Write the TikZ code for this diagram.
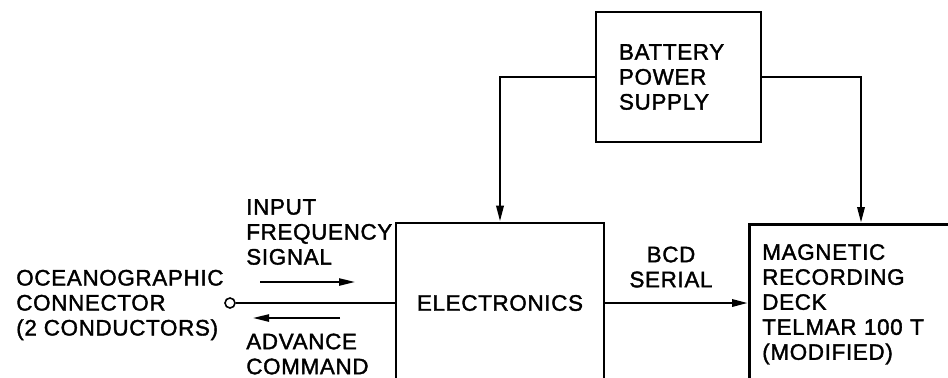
\documentclass[tikz,border=0pt]{standalone}
\usepackage{fontspec}
\setmainfont{Liberation Sans}[LetterSpace=3, FakeBold=1.6]
\usetikzlibrary{arrows.meta}

\begin{document}
\begin{tikzpicture}[x=0.5pt, y=-0.5pt, line width=1.3pt,
    every node/.style={font=\fontsize{11.2}{12.5}\selectfont},
    blk/.style={draw, line width=1.3pt},
    lbl/.style={align=left, inner sep=0pt},
    sig/.style={-{Triangle[length=8pt,width=3.6pt]}}]
  \useasboundingbox (0,0) rectangle (948,377);
  \clip (0,0) rectangle (948,377);

  % 电源
  \node[blk, minimum width=82.5pt, minimum height=65pt, text width=59.5pt,
        inner xsep=11.5pt, align=left] (batt) at (678.5,77) {BATTERY\\POWER\\SUPPLY};

  % 电子部分（下边在图外）
  \node[blk, minimum width=104pt, minimum height=80pt] (elec) at (500,303) {ELECTRONICS};

  % 磁带记录仪（右边、下边在图外）
  \node[blk, anchor=north west, minimum height=80pt, text width=200pt,
        inner xsep=6.5pt, align=left] (deck) at (748,223)
        {MAGNETIC\\RECORDING\\DECK\\TELMAR 100 T\\(MODIFIED)};

  % 海洋连接器
  \node[circle, draw, line width=0.8pt, inner sep=0pt, minimum size=5pt] (conn) at (230,303) {};
  \node[lbl, anchor=west] (connlbl) at (15,305) {OCEANOGRAPHIC\\CONNECTOR\\(2 CONDUCTORS)};

  % 连线
  \draw (conn.east) -- (elec.west);
  \draw[sig] (elec.east) -- (elec.east -| deck.west);
  \draw[sig] (batt.west) -| (elec.north);
  \draw[sig] (batt.east) -| ([xshift=56.5pt]deck.north west);

  % 信号方向
  \node[lbl, anchor=west] (inlbl) at (245,232) {INPUT\\FREQUENCY\\SIGNAL};
  \node[lbl, anchor=west] (advlbl) at (245,354) {ADVANCE\\COMMAND};
  \node[lbl, align=center] (bcdlbl) at (671,267) {BCD\\SERIAL};
  \coordinate (ina) at (260,282);
  \coordinate (inb) at (355,282);
  \coordinate (adva) at (340,318);
  \coordinate (advb) at (253,318);
  \draw[sig, line width=0.9pt] (ina) -- (inb);
  \draw[sig, line width=0.9pt] (adva) -- (advb);
\end{tikzpicture}
\end{document}
